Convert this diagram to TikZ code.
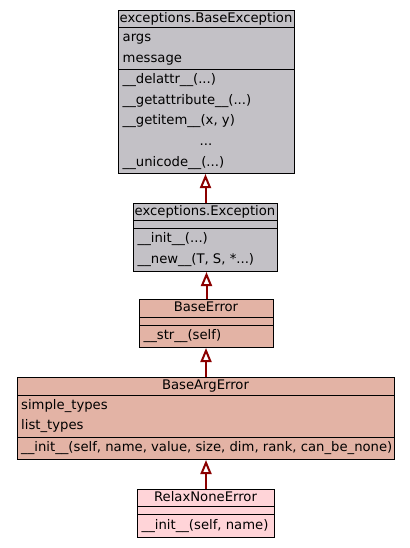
\documentclass[tikz,border=0pt]{standalone}
\usepackage{fontspec}
\setmainfont{DejaVu Sans}
\usetikzlibrary{arrows.meta}
\definecolor{clsgray}{RGB}{195,193,198}
\definecolor{clssalmon}{RGB}{227,179,165}
\definecolor{clspink}{RGB}{255,212,216}
\definecolor{inhred}{RGB}{139,0,0}
\tikzset{
  clsbox/.style={draw=black, line width=1pt, rectangle, inner sep=0pt, anchor=north west},
  sepline/.style={draw=black, line width=1pt},
  txt/.style={inner sep=0pt, font=\fontsize{13.2}{15}\selectfont, text height=9.5pt, text depth=2.5pt},
  lt/.style={txt, anchor=west},
  ct/.style={txt, anchor=center},
  inh/.style={draw=inhred, line width=2pt, -{Triangle[open, length=14pt, width=11pt, line width=2pt]}}
}
\begin{document}
\begin{tikzpicture}[x=1pt,y=-1pt]
\useasboundingbox[fill=white] (0,0) rectangle (409,548);

% BaseException
\node[clsbox, fill=clsgray, minimum width=176pt, minimum height=163pt] (b1) at (118,10) {};
\draw[sepline] (118,28) -- (294,28);
\draw[sepline] (118,70) -- (294,70);
\node[ct] (b1t) at (206,19) {exceptions.BaseException};
\node[lt] (b1a1) at (122.5,38.5) {args};
\node[lt] (b1a2) at (122.5,59) {message};
\node[lt] (b1m1) at (122.5,80.3) {\_\_delattr\_\_(...)};
\node[lt] (b1m2) at (122.5,100.9) {\_\_getattribute\_\_(...)};
\node[lt] (b1m3) at (122.5,121.5) {\_\_getitem\_\_(x, y)};
\node[ct] (b1m4) at (206,142.1) {...};
\node[lt] (b1m5) at (122.5,162.7) {\_\_unicode\_\_(...)};

% Exception
\node[clsbox, fill=clsgray, minimum width=144pt, minimum height=68pt] (b2) at (133,203) {};
\draw[sepline] (133,220) -- (277,220);
\draw[sepline] (133,228) -- (277,228);
\node[ct] (b2t) at (205,211.5) {exceptions.Exception};
\node[lt] (b2m1) at (137.5,238.7) {\_\_init\_\_(...)};
\node[lt] (b2m2) at (137.5,260) {\_\_new\_\_(T, S, *...)};

% BaseError
\node[clsbox, fill=clssalmon, minimum width=134pt, minimum height=48pt] (b3) at (139,299) {};
\draw[sepline] (139,317) -- (273,317);
\draw[sepline] (139,325) -- (273,325);
\node[ct] (b3t) at (206,308) {BaseError};
\node[lt] (b3m1) at (143.5,336) {\_\_str\_\_(self)};

% BaseArgError
\node[clsbox, fill=clssalmon, minimum width=377pt, minimum height=82pt] (b4) at (17,377) {};
\draw[sepline] (17,395) -- (394,395);
\draw[sepline] (17,437) -- (394,437);
\node[ct] (b4t) at (205.5,386) {BaseArgError};
\node[lt] (b4a1) at (21,405.5) {simple\_types};
\node[lt] (b4a2) at (21,426) {list\_types};
\node[lt] (b4m1) at (21,448) {\_\_init\_\_(self, name, value, size, dim, rank, can\_be\_none)};

% RelaxNoneError
\node[clsbox, fill=clspink, minimum width=137pt, minimum height=48pt] (b5) at (137,489) {};
\draw[sepline] (137,506) -- (274,506);
\draw[sepline] (137,514) -- (274,514);
\node[ct] (b5t) at (205.5,497.5) {RelaxNoneError};
\node[lt] (b5m1) at (141.5,525.5) {\_\_init\_\_(self, name)};

% inheritance
\draw[inh] (b2.north) -- (b2.north |- b1.south);
\draw[inh] (b3.north) -- (b3.north |- b2.south);
\draw[inh] (b4.north) -- (b4.north |- b3.south);
\draw[inh] (b5.north) -- (b5.north |- b4.south);
\end{tikzpicture}
\end{document}
